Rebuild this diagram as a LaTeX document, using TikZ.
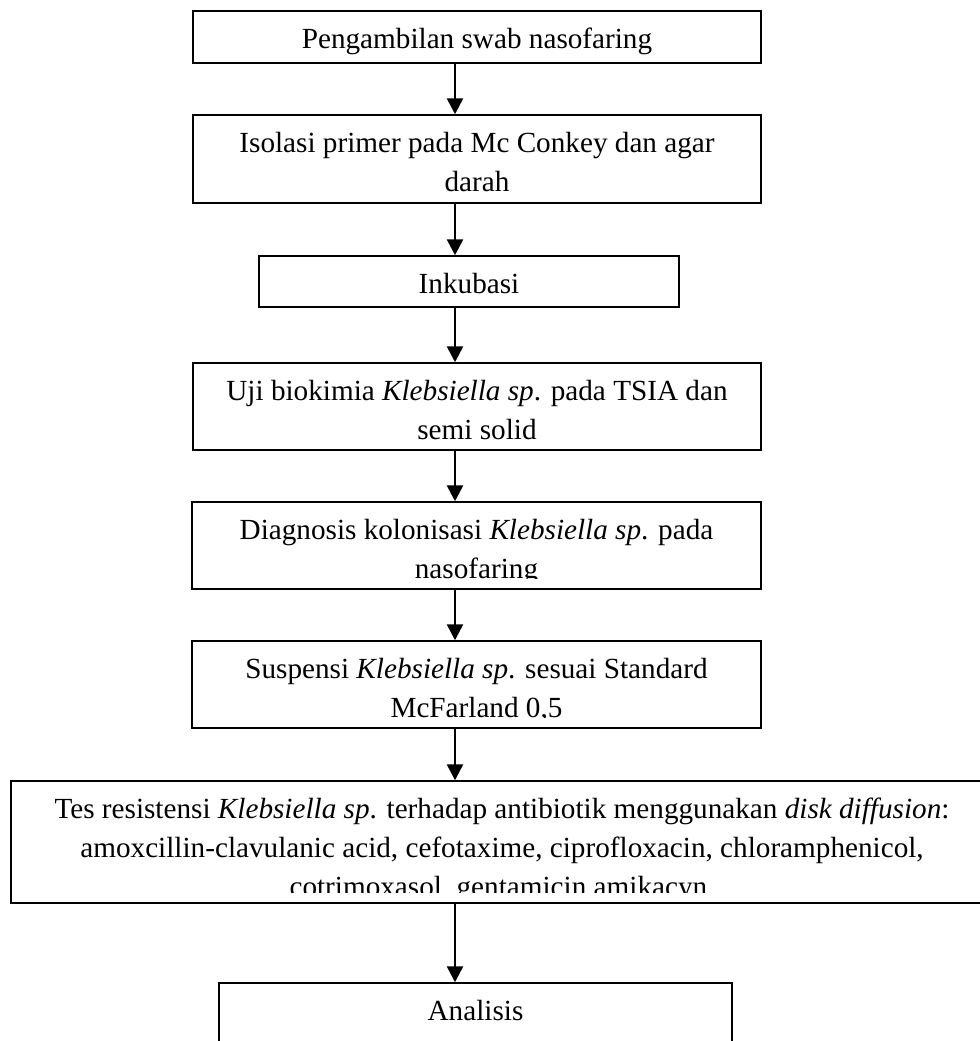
\documentclass[tikz,border=0pt]{standalone}
\usepackage{fontspec}
\setmainfont{Liberation Serif}
\usetikzlibrary{arrows.meta}
\begin{document}
\begin{tikzpicture}[x=0.75pt,y=-0.75pt,
  box/.style={draw, line width=1.1pt, inner sep=0pt},
  txt/.style={font=\fontsize{21.9}{29.25}\selectfont, align=center, inner sep=0pt, anchor=north},
  arr/.style={line width=1.9pt, -{Triangle[length=12pt,width=12pt]}}]
\useasboundingbox (0,0) rectangle (980,1041);
\clip (0,0) rectangle (980,1041);
\coordinate (ax) at (455,0);
% boxes
\node[box, minimum width=426pt, minimum height=39pt] (b1) at (477,37) {};
\node[box, minimum width=426pt, minimum height=66pt] (b2) at (477,159) {};
\node[box, minimum width=315pt, minimum height=38.25pt] (b3) at (469,281.5) {};
\node[box, minimum width=426pt, minimum height=65.25pt] (b4) at (477,406.5) {};
\node[box, minimum width=426.75pt, minimum height=65.25pt] (b5) at (476.5,545.5) {};
\node[box, minimum width=426.75pt, minimum height=65.25pt] (b6) at (476.5,684.5) {};
\node[box, minimum width=736.5pt, minimum height=91.5pt] (b7) at (502,842) {};
\node[box, minimum width=384.75pt, minimum height=57.75pt] (b8) at (475.5,1021.5) {};
% texts
\node[txt] (t1) at (477,27) {\rule{0pt}{15.8pt}Pengambilan swab nasofaring};
\node[txt] (t2) at (477,131) {\rule{0pt}{15.8pt}Isolasi primer pada Mc Conkey dan agar\\darah};
\node[txt] (t3) at (469,272) {\rule{0pt}{15.8pt}Inkubasi};
\node[txt] (t4) at (477,379) {\rule{0pt}{15.8pt}Uji biokimia \textit{Klebsiella sp}. pada TSIA dan\\semi solid};
\begin{scope}
\clip (b5.north west) rectangle ([yshift=8.25pt]b5.south east);
\node[txt] (t5) at (476.5,518) {\rule{0pt}{15.8pt}Diagnosis kolonisasi \textit{Klebsiella sp}. pada\\nasofaring};
\end{scope}
\begin{scope}
\clip (b6.north west) rectangle ([yshift=8.25pt]b6.south east);
\node[txt] (t6) at (476.5,657) {\rule{0pt}{15.8pt}Suspensi \textit{Klebsiella sp}. sesuai Standard\\McFarland 0,5};
\end{scope}
\begin{scope}
\clip (b7.north west) rectangle ([yshift=8.25pt]b7.south east);
\node[txt] (t7) at (502,797) {\rule{0pt}{15.8pt}Tes resistensi \textit{Klebsiella sp}. terhadap antibiotik menggunakan \textit{disk diffusion}:\\amoxcillin-clavulanic acid, cefotaxime, ciprofloxacin, chloramphenicol,\\cotrimoxasol, gentamicin amikacyn.};
\end{scope}
\node[txt] (t8) at (475.5,999) {\rule{0pt}{15.8pt}Analisis};
% arrows
\draw[arr] (b1.south -| ax) -- (b2.north -| ax);
\draw[arr] (b2.south -| ax) -- (b3.north -| ax);
\draw[arr] (b3.south -| ax) -- (b4.north -| ax);
\draw[arr] (b4.south -| ax) -- (b5.north -| ax);
\draw[arr] (b5.south -| ax) -- (b6.north -| ax);
\draw[arr] (b6.south -| ax) -- (b7.north -| ax);
\draw[arr] (b7.south -| ax) -- (b8.north -| ax);
\end{tikzpicture}
\end{document}
